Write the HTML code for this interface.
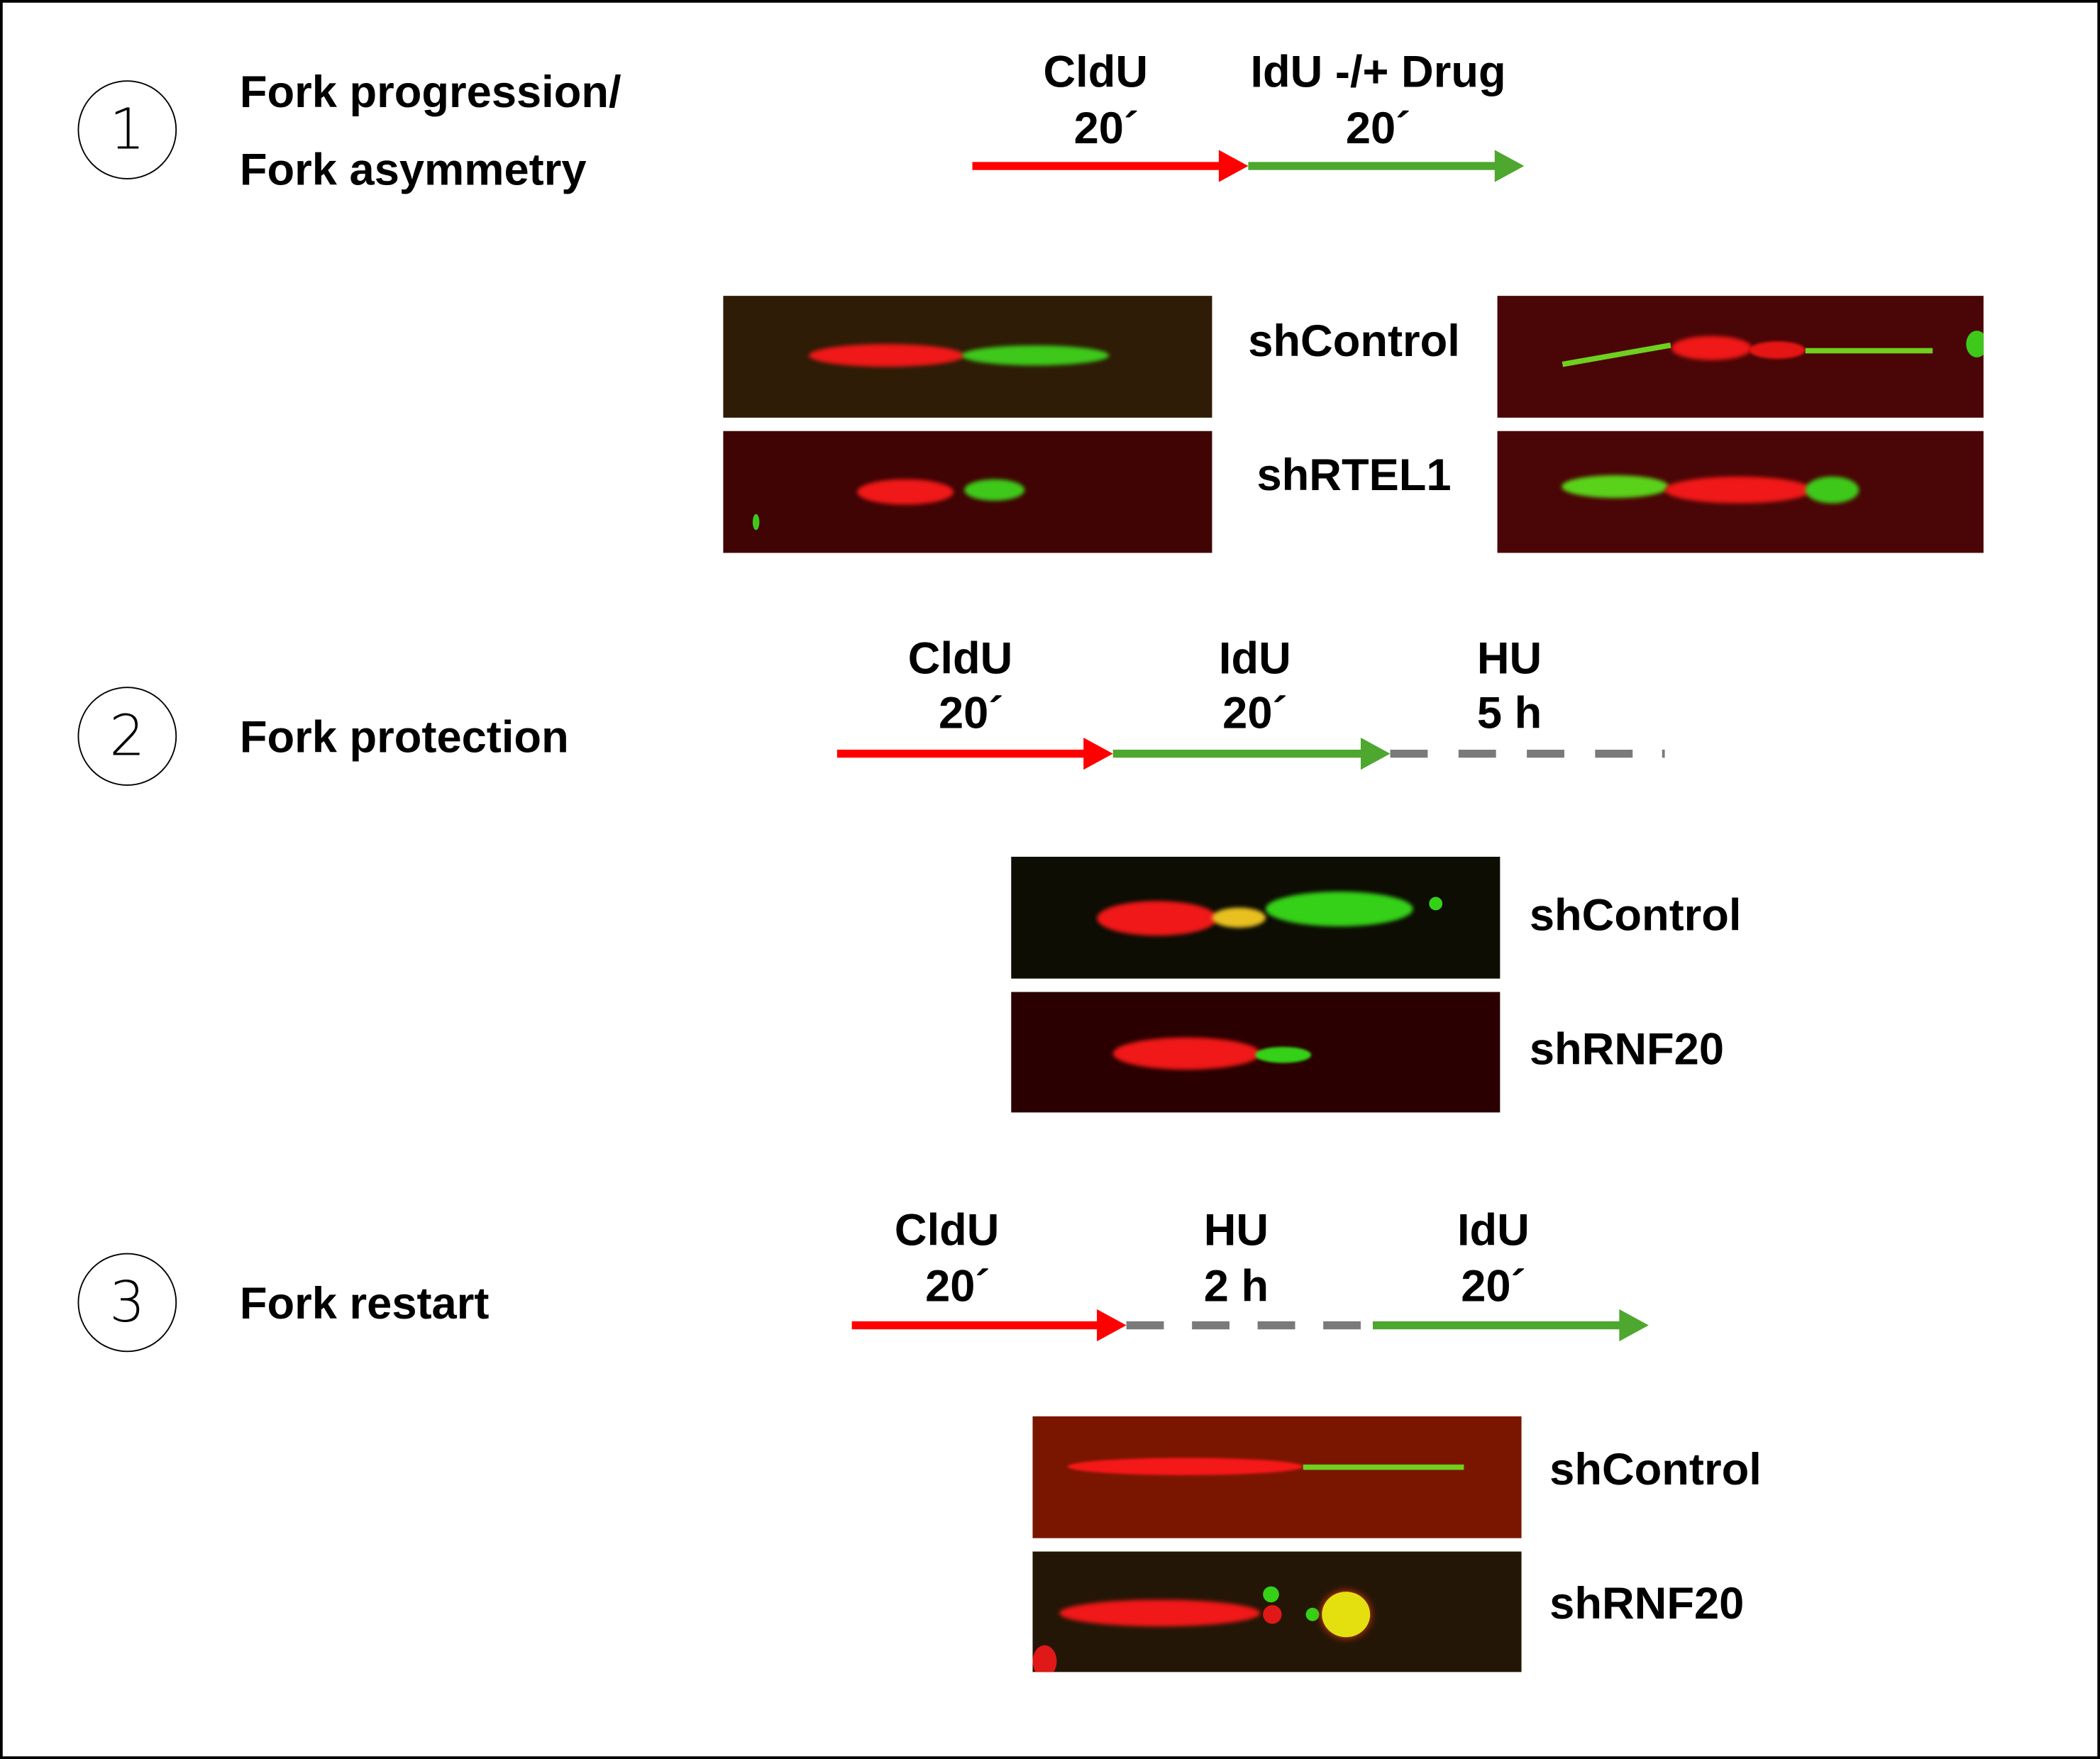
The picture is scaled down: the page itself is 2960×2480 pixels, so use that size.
<!DOCTYPE html>
<html><head><meta charset="utf-8"><style>
html,body{margin:0;padding:0;background:#fff}
body{width:2960px;height:2480px;overflow:hidden;position:relative}
#w{position:absolute;left:0;top:0;width:1568px;height:1314px;transform:scale(1.8878,1.8874);transform-origin:0 0;font-family:"Liberation Sans",Arial,sans-serif}
.frame{position:absolute;left:0;top:0;width:1564px;height:1310px;border:2px solid #000}
.t{position:absolute;font-weight:bold;font-size:33.5px;color:#000;white-space:nowrap;line-height:1}
.c{transform:translateX(-50%);text-align:center}
.circ{position:absolute;width:72px;height:72px;border:1.5px solid #000;border-radius:50%;font-size:42px;text-align:center;line-height:72px;font-family:"DejaVu Sans","Liberation Sans",sans-serif;font-weight:200}
.img{position:absolute;width:365px;height:91px;overflow:hidden}
.b{position:absolute;border-radius:50%}
</style></head><body><div id="w">
<div class="frame"></div>

<div class="circ" style="left:58px;top:60px">1</div>
<div class="circ" style="left:58px;top:513px">2</div>
<div class="circ" style="left:58px;top:936px">3</div>

<div class="t" style="left:179px;top:53px">Fork progression/</div>
<div class="t" style="left:179px;top:111px">Fork asymmetry</div>
<div class="t" style="left:179px;top:535px">Fork protection</div>
<div class="t" style="left:179px;top:958px">Fork restart</div>

<svg style="position:absolute;left:0;top:0" width="1568" height="1314">
<rect x="726" y="121" width="188" height="6" fill="#ff0000"/>
<polygon points="910,112 932,124 910,136" fill="#ff0000"/>
<rect x="932" y="121" width="188" height="6" fill="#4ea72e"/>
<polygon points="1116,112 1138,124 1116,136" fill="#4ea72e"/>
<rect x="625" y="560" width="187" height="6" fill="#ff0000"/>
<polygon points="809,551 831,563 809,575" fill="#ff0000"/>
<rect x="831" y="560" width="188" height="6" fill="#4ea72e"/>
<polygon points="1016,551 1038,563 1016,575" fill="#4ea72e"/>
<line x1="1038" y1="563" x2="1243" y2="563" stroke="#7a7a7a" stroke-width="6" stroke-dasharray="28,23"/>
<rect x="1241" y="560" width="2" height="6" fill="#7a7a7a"/>
<rect x="636" y="987" width="186" height="6" fill="#ff0000"/>
<polygon points="819,978 841,990 819,1002" fill="#ff0000"/>
<line x1="841" y1="990" x2="1025" y2="990" stroke="#7a7a7a" stroke-width="6" stroke-dasharray="28,21"/>
<rect x="1025" y="987" width="187" height="6" fill="#4ea72e"/>
<polygon points="1209,978 1231,990 1209,1002" fill="#4ea72e"/>
</svg>

<div class="t c" style="left:818px;top:38px">CldU</div>
<div class="t c" style="left:826px;top:80px">20´</div>
<div class="t c" style="left:1029px;top:38px">IdU -/+ Drug</div>
<div class="t c" style="left:1029px;top:80px">20´</div>

<div class="t c" style="left:717px;top:476px">CldU</div>
<div class="t c" style="left:725px;top:517px">20´</div>
<div class="t c" style="left:937px;top:476px">IdU</div>
<div class="t c" style="left:937px;top:517px">20´</div>
<div class="t c" style="left:1127px;top:476px">HU</div>
<div class="t c" style="left:1127px;top:517px">5 h</div>

<div class="t c" style="left:707px;top:903px">CldU</div>
<div class="t c" style="left:715px;top:945px">20´</div>
<div class="t c" style="left:923px;top:903px">HU</div>
<div class="t c" style="left:923px;top:945px">2 h</div>
<div class="t c" style="left:1115px;top:903px">IdU</div>
<div class="t c" style="left:1115px;top:945px">20´</div>

<div class="t c" style="left:1011px;top:239px">shControl</div>
<div class="t c" style="left:1011px;top:339px">shRTEL1</div>
<div class="t" style="left:1142px;top:668px">shControl</div>
<div class="t" style="left:1142px;top:768px">shRNF20</div>
<div class="t" style="left:1157px;top:1082px">shControl</div>
<div class="t" style="left:1157px;top:1182px">shRNF20</div>

<div class="img" style="left:540px;top:221px;background:#2e1c06">
 <div class="b" style="left:64px;top:36px;width:116px;height:17px;background:#f01818;filter:blur(1.5px)"></div>
 <div class="b" style="left:178px;top:37px;width:110px;height:15px;background:#3ec81a;filter:blur(1.5px)"></div>
</div>
<div class="img" style="left:1118px;top:221px;width:363px;background:#4a0606">
 <div class="b" style="left:130px;top:30px;width:60px;height:18px;background:#f01818;filter:blur(1.5px)"></div>
 <div class="b" style="left:188px;top:34px;width:42px;height:13px;background:#e51515;filter:blur(1px)"></div>
 <div style="position:absolute;left:48px;top:42px;width:82px;height:4px;background:#6fd020;transform:rotate(-10deg)"></div>
 <div style="position:absolute;left:230px;top:39px;width:95px;height:4px;background:#6fd020"></div>
 <div class="b" style="left:350px;top:26px;width:16px;height:20px;background:#3ec81a"></div>
</div>
<div class="img" style="left:540px;top:322px;background:#400404">
 <div class="b" style="left:100px;top:36px;width:72px;height:19px;background:#f01818;filter:blur(1.5px)"></div>
 <div class="b" style="left:180px;top:36px;width:45px;height:16px;background:#3ec81a;filter:blur(1.5px)"></div>
 <div class="b" style="left:22px;top:62px;width:5px;height:12px;background:#3ec81a"></div>
</div>
<div class="img" style="left:1118px;top:322px;width:363px;background:#4a0606">
 <div class="b" style="left:48px;top:33px;width:80px;height:17px;background:#5ad21a;filter:blur(1.5px)"></div>
 <div class="b" style="left:125px;top:34px;width:110px;height:20px;background:#f01818;filter:blur(1.5px)"></div>
 <div class="b" style="left:230px;top:34px;width:40px;height:20px;background:#3ec81a;filter:blur(1.5px)"></div>
</div>

<div class="img" style="left:755px;top:640px;background:#0d0d04">
 <div class="b" style="left:64px;top:33px;width:90px;height:26px;background:#f01818;filter:blur(1.5px)"></div>
 <div class="b" style="left:150px;top:38px;width:40px;height:15px;background:#e8c020;filter:blur(1.5px)"></div>
 <div class="b" style="left:190px;top:26px;width:110px;height:26px;background:#35d018;filter:blur(1.5px)"></div>
 <div class="b" style="left:312px;top:30px;width:10px;height:10px;background:#35d018"></div>
</div>
<div class="img" style="left:755px;top:741px;height:90px;background:#2a0000">
 <div class="b" style="left:76px;top:34px;width:110px;height:24px;background:#f01818;filter:blur(1.5px)"></div>
 <div class="b" style="left:182px;top:41px;width:42px;height:12px;background:#35d018;filter:blur(1px)"></div>
</div>

<div class="img" style="left:771px;top:1058px;height:91px;background:#7a1600">
 <div class="b" style="left:26px;top:31px;width:176px;height:13px;background:#f51818;filter:blur(1px)"></div>
 <div style="position:absolute;left:202px;top:36px;width:120px;height:4px;background:#70d020"></div>
</div>
<div class="img" style="left:771px;top:1159px;height:90px;background:#241606">
 <div class="b" style="left:20px;top:36px;width:150px;height:20px;background:#f01818;filter:blur(1.5px)"></div>
 <div class="b" style="left:172px;top:40px;width:14px;height:14px;background:#e01818"></div>
 <div class="b" style="left:172px;top:26px;width:12px;height:12px;background:#35d018"></div>
 <div class="b" style="left:204px;top:42px;width:10px;height:10px;background:#35d018"></div>
 <div class="b" style="left:216px;top:30px;width:36px;height:34px;background:#e4e010;box-shadow:0 0 6px #f04010"></div>
 <div class="b" style="left:0px;top:70px;width:18px;height:24px;background:#e01818"></div>
</div>
</div></body></html>
